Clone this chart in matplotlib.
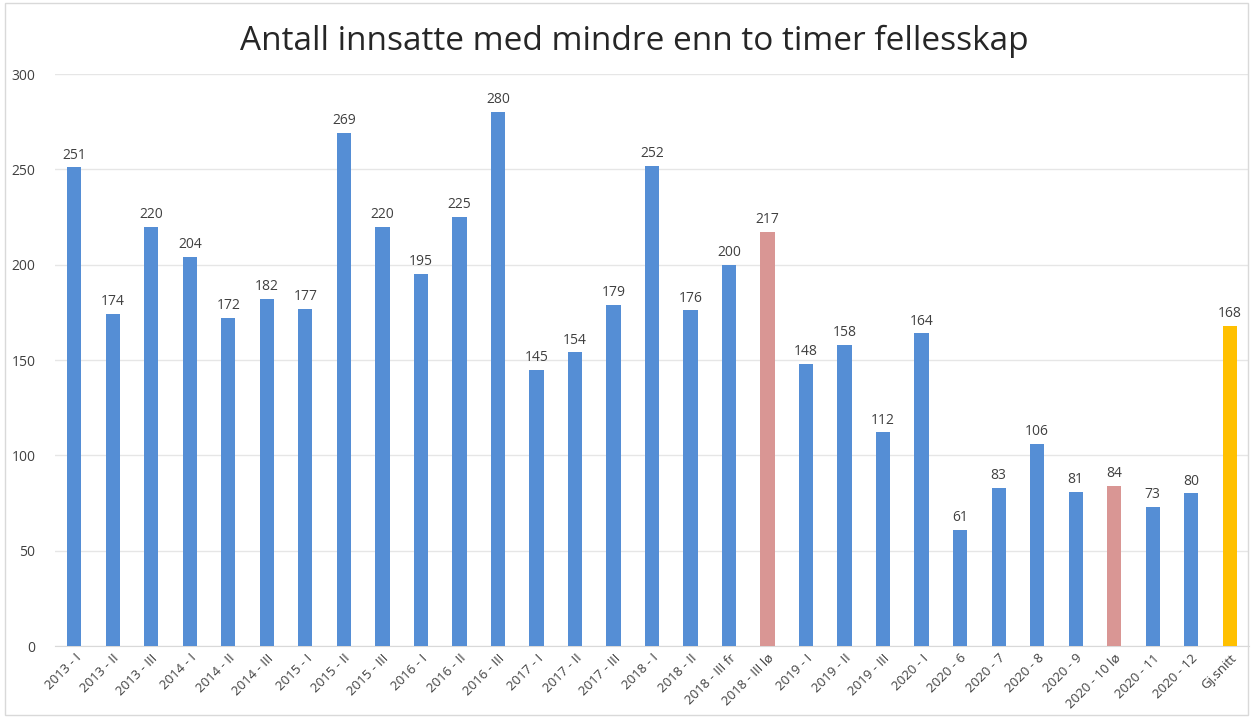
import numpy as np
import matplotlib
matplotlib.use("Agg")
import matplotlib.pyplot as plt

plt.rcParams['font.family'] = ['Open Sans', 'DejaVu Sans']

labels = ['2013 - I', '2013 - II', '2013 - III', '2014 - I', '2014 - II', '2014 - III',
          '2015 - I', '2015 - II', '2015 - III', '2016 - I', '2016 - II', '2016 - III',
          '2017 - I', '2017 - II', '2017 - III', '2018 - I', '2018 - II', '2018 - III fr',
          '2018 - III lø', '2019 - I', '2019 - II', '2019 - III', '2020 - I', '2020 - 6',
          '2020 - 7', '2020 - 8', '2020 - 9', '2020 - 10 lø', '2020 - 11', '2020 - 12',
          'Gj.snitt']
values = [251, 174, 220, 204, 172, 182, 177, 269, 220, 195, 225, 280, 145, 154, 179,
          252, 176, 200, 217, 148, 158, 112, 164, 61, 83, 106, 81, 84, 73, 80, 168]

blue = '#558ed5'
pink = '#d99694'
gold = '#ffc000'
colors = [blue] * len(values)
colors[labels.index('2018 - III lø')] = pink
colors[labels.index('2020 - 10 lø')] = pink
colors[labels.index('Gj.snitt')] = gold

fig = plt.figure(figsize=(12.53, 7.18), dpi=100)
ax = fig.add_axes([55 / 1253, 72 / 718, 1194 / 1253, 572 / 718])

x = np.arange(len(values))
ax.bar(x, values, width=0.37, color=colors, zorder=3)
for xi, v in zip(x, values):
    ax.text(xi, v + 2.5, str(v), ha='center', va='bottom', fontsize=10, color='#404040')

ax.set_xlim(-0.5, len(values) - 0.5)
ax.set_ylim(0, 300)
ax.set_yticks(range(0, 301, 50))
ax.grid(axis='y', color='#e6e6e6', linewidth=1, zorder=0)
ax.set_xticks(x)
ax.set_xticklabels(labels, rotation=45, ha='right', rotation_mode='anchor', fontsize=9.5, color='#404040')
ax.tick_params(axis='y', labelsize=10, colors='#404040', length=0, pad=14)
ax.tick_params(axis='x', length=0, pad=4)
for s in ['top', 'right', 'left']:
    ax.spines[s].set_visible(False)
ax.spines['bottom'].set_color('#d9d9d9')

fig.text(0.506, 0.942, 'Antall innsatte med mindre enn to timer fellesskap',
         ha='center', va='center', fontsize=24, color='#262626')

fig.patches.append(plt.Rectangle((0.004, 0.004), 0.992, 0.992, transform=fig.transFigure,
                                 fill=False, edgecolor='#d9d9d9', linewidth=1))

fig.savefig('out.png', dpi=100)
